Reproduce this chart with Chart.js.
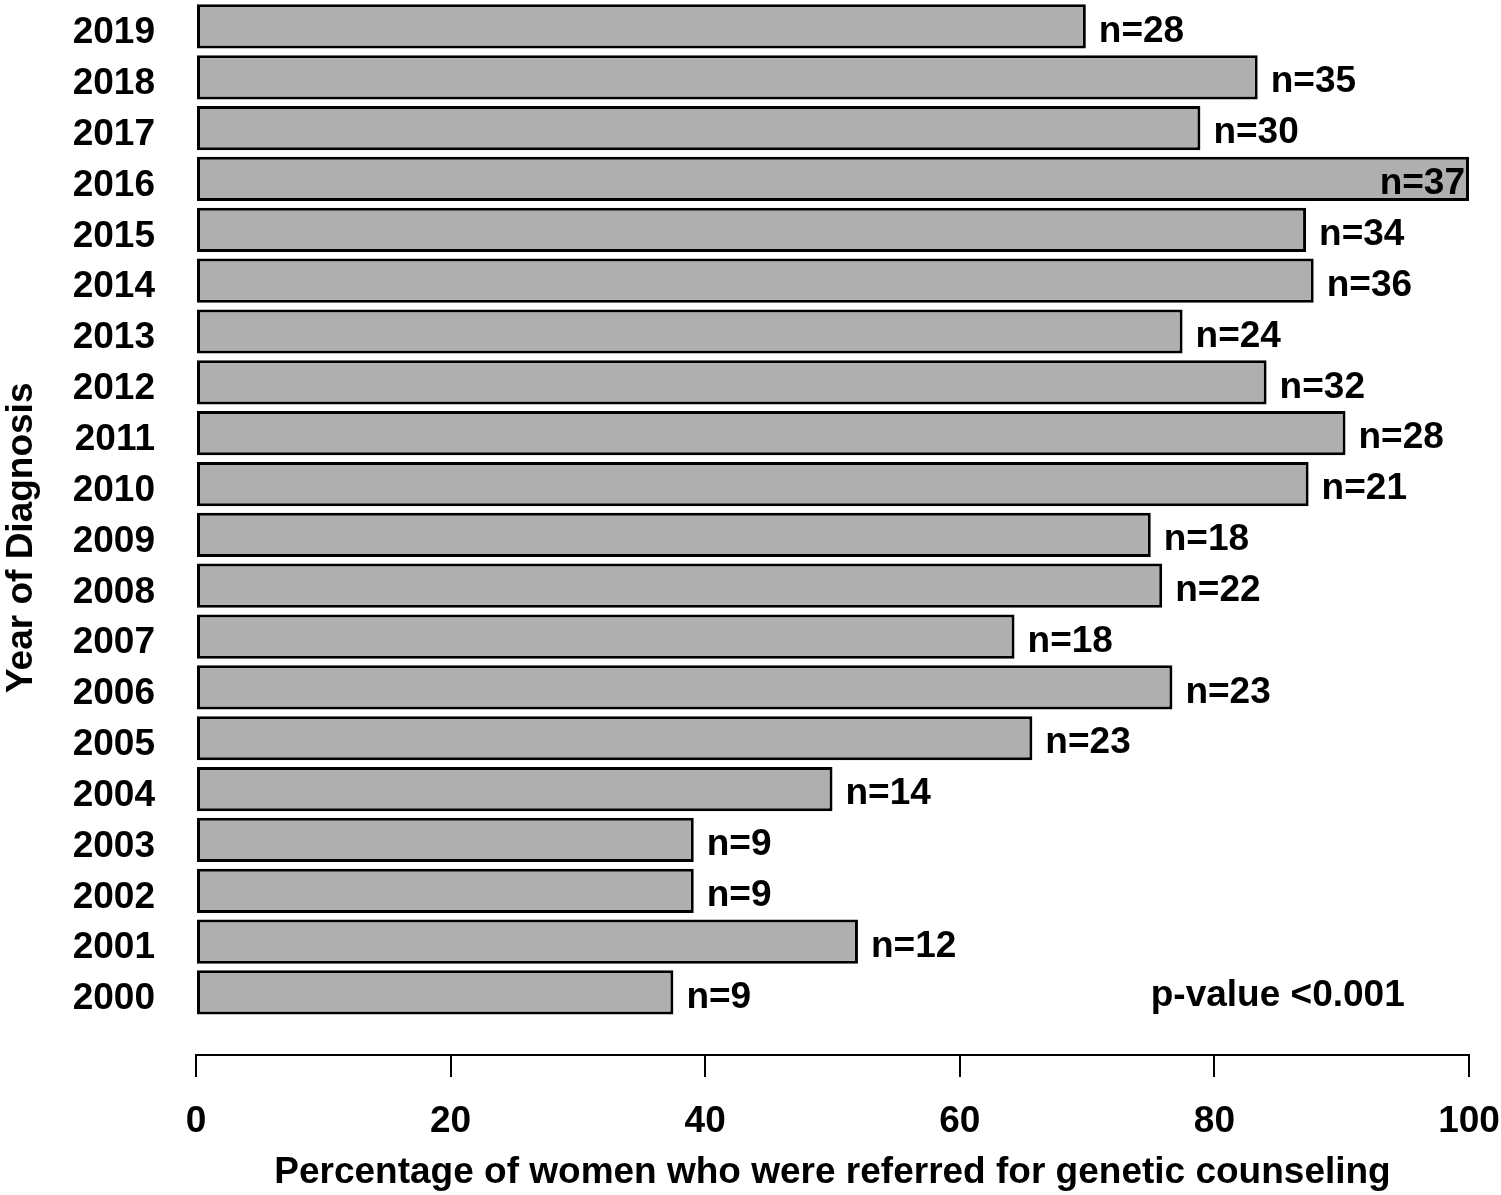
<!DOCTYPE html>
<html>
<head>
<meta charset="utf-8">
<script src="https://cdn.jsdelivr.net/npm/chart.js@4/dist/chart.umd.min.js"></script>
<style>
html,body{margin:0;padding:0;background:#fff;}
#wrap{width:1501px;height:1195px;}
</style>
</head>
<body>
<div id="wrap"><canvas id="c" width="1501" height="1195"></canvas></div>
<script>
const years = [2000,2001,2002,2003,2004,2005,2006,2007,2008,2009,2010,2011,2012,2013,2014,2015,2016,2017,2018,2019];
const percentReferred = [37.5,52.0,39.1,39.1,50.0,65.7,76.7,64.3,75.9,75.0,87.4,90.3,84.1,77.5,87.8,87.2,100,78.9,83.4,69.9];
const counts = [9,12,9,9,14,23,23,18,22,18,21,28,32,24,36,34,37,30,35,28];
const xTicks = [0,20,40,60,80,100];
const pValueText = 'p-value <0.001';
const xTitle = 'Percentage of women who were referred for genetic counseling';
const yTitle = 'Year of Diagnosis';

const FONT = '"Liberation Sans", Arial, sans-serif';
const LABEL_SHIFT = 0.13; // small downward nudge of year labels (in band units)

const labelPlugin = {
  id: 'nLabels',
  afterDatasetsDraw(chart) {
    const ctx = chart.ctx;
    const meta = chart.getDatasetMeta(0);
    ctx.save();
    ctx.font = 'bold 37px ' + FONT;
    ctx.fillStyle = '#000';
    ctx.textBaseline = 'middle';
    meta.data.forEach((bar, i) => {
      const txt = 'n=' + counts[i];
      const w = ctx.measureText(txt).width;
      let x = bar.x + 13;
      if (x + w > chart.width - 2) {
        ctx.textAlign = 'right';
        x = bar.x - 4;
      } else {
        ctx.textAlign = 'left';
      }
      ctx.fillText(txt, x, bar.y + 5);
    });
    const xs = chart.scales.x, ys = chart.scales.y;
    ctx.textAlign = 'left';
    ctx.fillText(pValueText, xs.getPixelForValue(75), ys.getPixelForValue(years[0]) + 3);
    ctx.restore();
  }
};

new Chart(document.getElementById('c'), {
  type: 'bar',
  data: {
    datasets: [{
      data: years.map((yr, i) => ({ x: percentReferred[i], y: yr })),
      backgroundColor: '#afafaf',
      borderColor: '#000',
      borderWidth: 3,
      borderSkipped: false,
      barPercentage: 0.87,
      categoryPercentage: 1.0
    }]
  },
  options: {
    indexAxis: 'y',
    responsive: false,
    animation: false,
    layout: { padding: { left: 0, right: 0, top: 0, bottom: 0 } },
    plugins: { legend: { display: false }, tooltip: { enabled: false } },
    scales: {
      x: {
        type: 'linear',
        min: 0, max: 100,
        afterFit: s => { s.height = 140; s.paddingRight = 32; s.paddingLeft = 0; },
        afterBuildTicks: s => { s.ticks = xTicks.map(v => ({ value: v })); },
        grid: { display: true, drawOnChartArea: false, drawTicks: true, tickLength: 22, color: '#000', lineWidth: 2 },
        border: { display: true, color: '#000', width: 2 },
        ticks: { color: '#000', padding: 23, maxRotation: 0, font: { family: FONT, size: 37, weight: 'bold', lineHeight: 1.2 } },
        title: { display: true, text: xTitle, color: '#000', padding: { top: 0, bottom: 0 }, font: { family: FONT, size: 37, weight: 'bold', lineHeight: 1.2 } }
      },
      y: {
        type: 'linear',
        offset: false,
        min: 1998.77, max: 2019.52,
        afterFit: s => { s.width = 196; s.paddingTop = 0; s.paddingBottom = 0; },
        afterBuildTicks: s => { s.ticks = years.map(v => ({ value: v - LABEL_SHIFT })); },
        grid: { display: false, drawTicks: false },
        border: { display: false },
        ticks: { color: '#000', padding: 41, callback: v => String(Math.round(v)), font: { family: FONT, size: 37, weight: 'bold', lineHeight: 1.2 } },
        title: { display: true, text: yTitle + '\u00a0\u00a0', color: '#000', padding: { top: 0, bottom: 0 }, font: { family: FONT, size: 37, weight: 'bold', lineHeight: 1.2 } }
      }
    }
  },
  plugins: [labelPlugin]
});
</script>
</body>
</html>
